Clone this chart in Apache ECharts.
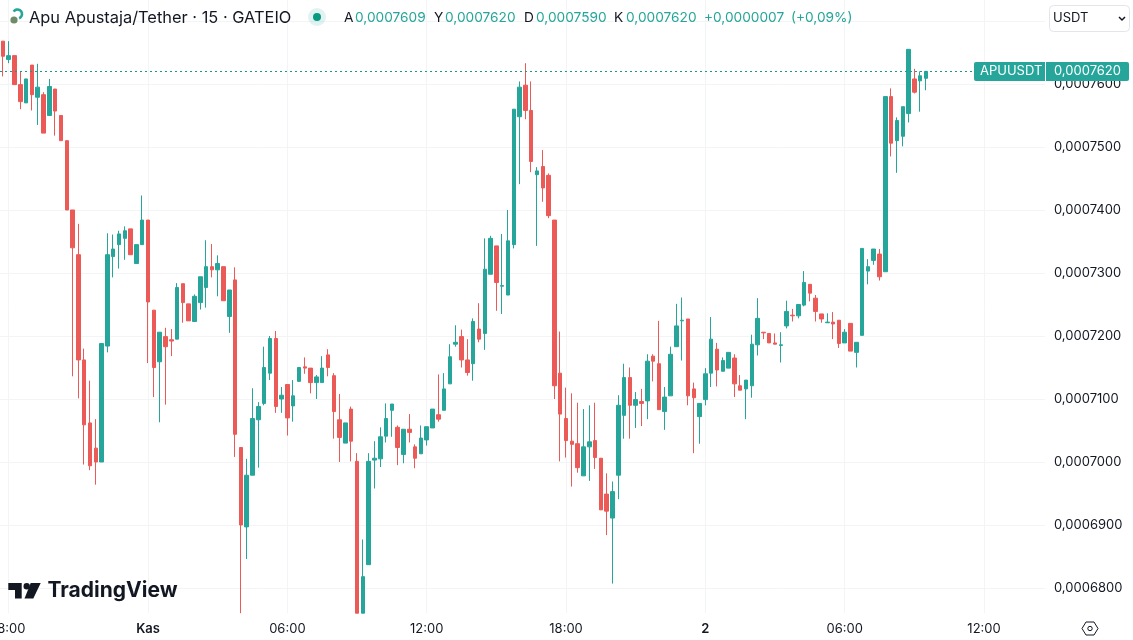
<!DOCTYPE html>
<html>
<head>
<meta charset="utf-8">
<title>APUUSDT</title>
<script src="https://cdn.jsdelivr.net/npm/echarts@6/dist/echarts.min.js"></script>
<style>
html, body { margin: 0; padding: 0; background: #fff; }
#chart { width: 1133px; height: 640px; }
</style>
</head>
<body>
<div id="chart"></div>
<script>
// prices are in units of 0,0000001
var opens = [7668,7639,7645,7599,7570,7630,7579,7583,7550,7592,
7550,7510,7400,7329,7162,7062,7022,7000,7184,7326,
7345,7355,7370,7315,7345,7384,7241,7159,7199,7194,
7195,7283,7251,7223,7253,7277,7310,7305,7310,7231,
7289,7023,6897,6979,7067,7093,7141,7196,7100,7123,
7089,7128,7151,7149,7126,7126,7170,7137,7067,7030,
7084,7001,6760,6837,7003,7005,7041,7082,7055,7012,
7052,7024,7013,7035,7054,7075,7082,7124,7187,7199,
7162,7156,7211,7204,7298,7343,7279,7265,7345,7548,
7598,7558,7456,7469,7455,7384,7141,7069,7033,7029,
6978,7024,7034,7006,6949,6911,6979,7074,7134,7090,
7096,7097,7168,7156,7080,7105,7183,7224,7227,7116,
7072,7099,7141,7179,7144,7149,7165,7121,7116,7121,
7186,7206,7204,7189,7185,7216,7233,7232,7249,7282,
7260,7235,7221,7222,7225,7189,7220,7174,7201,7303,
7320,7330,7302,7580,7510,7517,7553,7608,7605,7609];
var closes = [7644,7645,7599,7572,7608,7583,7595,7522,7596,7557,
7510,7400,7340,7162,7059,6994,7000,7188,7329,7338,
7362,7367,7329,7345,7384,7254,7150,7206,7183,7192,
7277,7253,7224,7263,7294,7310,7305,7315,7256,7273,
7044,6900,6979,7069,7088,7150,7196,7088,7106,7070,
7105,7150,7149,7126,7135,7149,7150,7080,7039,7062,
7033,6760,6818,7001,7006,7040,7069,7092,7023,7052,
7047,7006,7038,7056,7084,7068,7116,7167,7190,7162,
7142,7223,7195,7306,7355,7285,7280,7351,7560,7595,
7558,7477,7462,7435,7391,7121,7076,7034,7028,6991,
7024,7032,7007,6924,6922,6953,7090,7134,7090,7099,
7093,7160,7160,7083,7103,7171,7216,7225,7105,7102,
7093,7140,7195,7146,7161,7174,7124,7114,7130,7187,
7228,7205,7189,7187,7186,7239,7232,7250,7285,7268,
7239,7227,7222,7219,7188,7206,7176,7190,7339,7310,
7338,7294,7580,7506,7542,7564,7655,7587,7613,7620];
var lows = [7612,7633,7599,7560,7570,7558,7535,7522,7550,7518,
7510,7400,7136,7101,6996,6987,6964,7000,7174,7293,
7307,7321,7329,7315,7345,7157,7103,7063,7091,7168,
7195,7221,7224,7223,7242,7245,7293,7263,7256,7205,
7008,6760,6846,6979,6991,7090,7130,7078,7078,7042,
7064,7127,7140,7109,7100,7126,7136,7037,7000,7030,
7001,6760,6760,6837,6958,6992,7031,7040,6995,6998,
7031,6990,7013,7026,7054,7064,7082,7124,7183,7150,
7137,7129,7190,7178,7298,7240,7235,7265,7339,7441,
7544,7460,7343,7413,7387,7100,7001,7007,6961,6983,
6978,6970,6989,6924,6884,6807,6941,7037,7037,7054,
7057,7068,7128,7083,7051,7105,7183,7161,7090,7014,
7029,7090,7119,7120,7144,7149,7103,7114,7068,7102,
7169,7195,7189,7187,7158,7212,7223,7228,7247,7255,
7223,7221,7221,7195,7181,7189,7176,7150,7201,7282,
7313,7288,7302,7485,7459,7501,7539,7585,7556,7590];
var highs = [7668,7668,7645,7620,7608,7630,7632,7587,7608,7592,
7550,7510,7400,7378,7180,7129,7068,7188,7363,7361,
7367,7374,7370,7345,7423,7384,7241,7206,7213,7211,
7284,7283,7251,7266,7294,7352,7346,7328,7310,7273,
7309,7023,7005,7117,7095,7183,7200,7208,7119,7123,
7130,7150,7166,7149,7138,7168,7179,7141,7108,7062,
7088,7014,6877,7014,7033,7055,7093,7092,7058,7052,
7076,7028,7058,7056,7084,7139,7141,7187,7217,7210,
7195,7228,7252,7355,7359,7343,7362,7400,7560,7604,
7633,7604,7468,7495,7458,7384,7207,7118,7109,7094,
7084,7090,7094,7006,6982,6969,7106,7156,7150,7111,
7116,7171,7171,7224,7119,7183,7251,7261,7227,7126,
7093,7149,7230,7189,7166,7174,7171,7138,7130,7202,
7260,7206,7204,7204,7206,7256,7243,7250,7303,7282,
7265,7235,7236,7238,7225,7211,7220,7190,7339,7322,
7338,7338,7580,7593,7547,7564,7655,7624,7620,7620];

var lastPrice = 7620;
var priceTicks = [6800,6900,7000,7100,7200,7300,7400,7500,7600,7700];
var priceLabels = [6800,6900,7000,7100,7200,7300,7400,7500,7600];
var priceMin = 6760.3;
var priceMax = 7733.3;

// one slot every 15 minutes, the right end of the pane stays empty
var slotCount = 180;
var categories = [];
for (var s = 0; s < slotCount; s++) {
    var minutes = (17 * 60 + 45 + s * 15) % 1440;
    var hh = Math.floor(minutes / 60);
    var mm = minutes % 60;
    categories.push((hh < 10 ? "0" : "") + hh + ":" + (mm < 10 ? "0" : "") + mm);
}
var timeIndexes = [1, 25, 49, 73, 97, 121, 145, 169];
var timeLabels = ["18:00", "Kas", "06:00", "12:00", "18:00", "2", "06:00", "12:00"];
var boldLabels = ["Kas", "2"];

var upColor = "#26a69a";
var downColor = "#eb5a56";
var gridColor = "#f3f4f6";
var textColor = "#131722";
var fontName = "Inter, 'Noto Sans', sans-serif";

function formatPrice(v) {
    var str = String(Math.round(v));
    return "0,000" + str;
}

var candles = [];
for (var i = 0; i < opens.length; i++) {
    candles.push([opens[i], closes[i], lows[i], highs[i]]);
}

function headerText(x, text, color) {
    return {
        type: "text",
        x: x,
        y: 18,
        z: 20,
        style: {
            text: text,
            fill: color,
            font: "13.7px " + fontName,
            verticalAlign: "middle"
        }
    };
}

var graphics = [
    // symbol icon
    { type: "circle", z: 20, shape: { cx: 14, cy: 20, r: 3.6 }, style: { fill: "#6f8a68" } },
    { type: "arc", z: 20, shape: { cx: 17.5, cy: 14, r: 4.5, startAngle: -2.6, endAngle: 1.2 },
        style: { stroke: "#26a69a", lineWidth: 2.6, fill: null } },
    { type: "text", z: 20, x: 29, y: 18,
        style: { text: "Apu Apustaja/Tether · 15 · GATEIO", fill: textColor,
            font: "16.4px " + fontName, verticalAlign: "middle" } },
    // market status dot
    { type: "circle", z: 20, shape: { cx: 317, cy: 17, r: 9 }, style: { fill: "rgba(8,153,129,0.12)" } },
    { type: "circle", z: 20, shape: { cx: 317, cy: 17, r: 4 }, style: { fill: "#089981" } },
    headerText(344, "A", textColor),
    headerText(355, formatPrice(opens[opens.length - 1]), upColor),
    headerText(434, "Y", textColor),
    headerText(445, formatPrice(highs[highs.length - 1]), upColor),
    headerText(524, "D", textColor),
    headerText(536, formatPrice(lows[lows.length - 1]), upColor),
    headerText(614, "K", textColor),
    headerText(626, formatPrice(closes[closes.length - 1]), upColor),
    headerText(704, "+0,0000007", upColor),
    headerText(791, "(+0,09%)", upColor),
    // currency select
    { type: "rect", z: 20, shape: { x: 1049.5, y: 5.5, width: 80, height: 26, r: 4 },
        style: { fill: "#fff", stroke: "#e3e5ea", lineWidth: 1 } },
    { type: "text", z: 21, x: 1053, y: 18,
        style: { text: "USDT", fill: textColor, font: "13px " + fontName, verticalAlign: "middle" } },
    { type: "polyline", z: 21, shape: { points: [[1119, 17], [1122, 20], [1125, 17]] },
        style: { stroke: textColor, lineWidth: 1.5, fill: null } },
    // TradingView logo
    { type: "polygon", z: 20, shape: { points: [[8.3, 583], [21.7, 583], [21.7, 598.5], [15, 598.5], [15, 590], [8.3, 590]] },
        style: { fill: textColor } },
    { type: "circle", z: 20, shape: { cx: 26.7, cy: 586.2, r: 3.2 }, style: { fill: textColor } },
    { type: "polygon", z: 20, shape: { points: [[30.7, 583], [40.7, 583], [33.3, 598.5], [24.5, 598.5]] },
        style: { fill: textColor } },
    { type: "text", z: 20, x: 47.5, y: 591,
        style: { text: "TradingView", fill: textColor, font: "700 21px " + fontName, verticalAlign: "middle" } },
    // settings hexagon
    { type: "polygon", z: 20, shape: { points: [[1082, 628.5], [1086, 622], [1094, 622], [1098, 628.5], [1094, 635], [1086, 635]] },
        style: { stroke: textColor, lineWidth: 1, fill: "#fff" } },
    { type: "circle", z: 21, shape: { cx: 1090, cy: 628.5, r: 2.2 }, style: { stroke: textColor, lineWidth: 1, fill: "#fff" } }
];

var myChart = echarts.init(document.getElementById("chart"));
myChart.setOption({
    animation: false,
    backgroundColor: "#fff",
    textStyle: { fontFamily: fontName },
    grid: { left: 0, right: 88, top: 0, bottom: 27, outerBoundsMode: "none" },
    xAxis: {
        type: "category",
        data: categories,
        boundaryGap: true,
        axisLine: { show: false },
        axisTick: { show: false },
        axisLabel: {
            interval: function(index) { return timeIndexes.indexOf(index) >= 0; },
            formatter: function(value, index) {
                var text = timeLabels[timeIndexes.indexOf(index)];
                return boldLabels.indexOf(text) >= 0 ? "{b|" + text + "}" : text;
            },
            margin: 10,
            color: textColor,
            fontSize: 13,
            fontFamily: fontName,
            hideOverlap: false,
            rich: { b: { fontWeight: 600, fontSize: 13, color: textColor, fontFamily: fontName } }
        },
        splitLine: {
            show: true,
            alignWithLabel: true,
            interval: function(index) { return timeIndexes.indexOf(index) >= 0; },
            lineStyle: { color: gridColor, width: 1 }
        }
    },
    yAxis: {
        type: "value",
        position: "right",
        min: priceMin,
        max: priceMax,
        scale: true,
        axisLine: { show: false },
        axisTick: { show: false, customValues: priceTicks },
        axisLabel: {
            customValues: priceLabels,
            formatter: formatPrice,
            margin: 9,
            color: textColor,
            fontSize: 13,
            fontFamily: fontName
        },
        splitLine: { show: true, lineStyle: { color: gridColor, width: 1 } }
    },
    series: [{
        type: "candlestick",
        data: candles,
        barWidth: 4,
        itemStyle: {
            color: upColor,
            color0: downColor,
            borderColor: upColor,
            borderColor0: downColor,
            borderWidth: 1
        },
        markLine: {
            silent: true,
            symbol: "none",
            animation: false,
            label: { show: false },
            lineStyle: { color: "#159a8c", type: [2, 3], width: 1 },
            data: [{ yAxis: lastPrice }]
        }
    }],
    graphic: graphics
});

// price tag follows the y axis scale
var tagY = myChart.convertToPixel({ yAxisIndex: 0 }, lastPrice);
myChart.setOption({
    graphic: graphics.concat([
        { type: "rect", z: 20, shape: { x: 974, y: tagY - 9.5, width: 155, height: 19, r: 2 }, style: { fill: upColor } },
        { type: "rect", z: 21, shape: { x: 1045, y: tagY - 9.5, width: 1, height: 19 }, style: { fill: "#fff" } },
        { type: "text", z: 21, x: 980, y: tagY,
            style: { text: "APUUSDT", fill: "#fff", font: "13px " + fontName, verticalAlign: "middle" } },
        { type: "text", z: 21, x: 1054, y: tagY,
            style: { text: formatPrice(lastPrice), fill: "#fff", font: "13px " + fontName, verticalAlign: "middle" } }
    ])
});
</script>
</body>
</html>
